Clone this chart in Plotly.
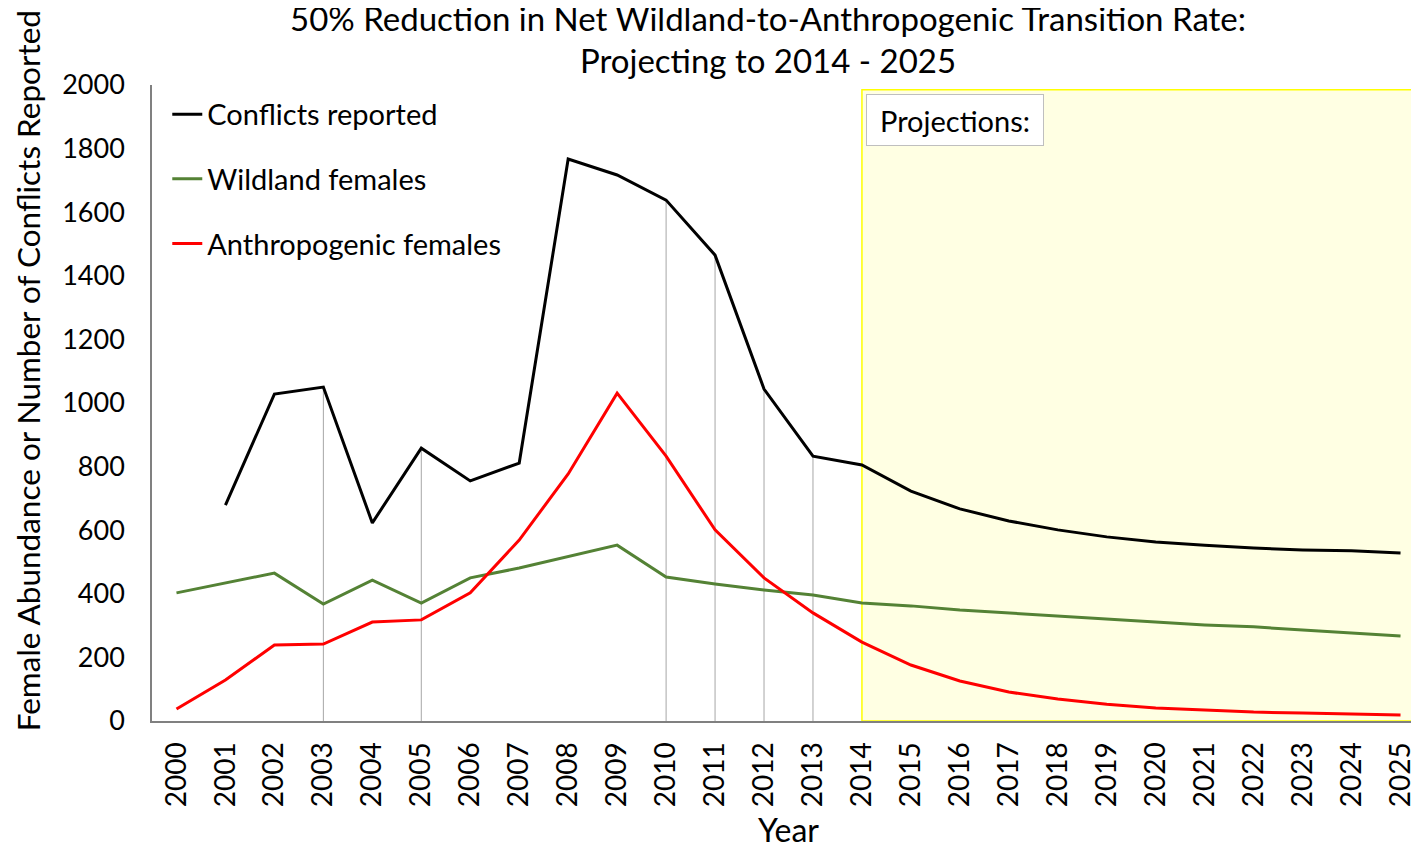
import plotly.graph_objects as go

years = list(range(2000, 2026))
conflicts = [None, 679, 1028, 1050, 623, 858, 755, 811, 1767, 1717, 1638, 1465, 1044, 833,
             805, 723, 667, 629, 601, 579, 563, 553, 544, 538, 535, 528]
wildland = [403, 434, 465, 368, 443, 371, 450, 481, 516, 553, 453, 431, 412, 396,
            371, 362, 349, 340, 330, 321, 311, 302, 296, 286, 277, 267]
anthropogenic = [38, 129, 239, 242, 311, 318, 403, 569, 777, 1031, 833, 601, 450, 340,
                 248, 176, 126, 91, 69, 53, 41, 35, 28, 25, 22, 19]
drop_years = [2003, 2005, 2010, 2011, 2012, 2013]
projection_start = 2014

FONT = "Lato"

# thin grey drop lines from the axis up to the conflicts line
drop_x, drop_y = [], []
for yr in drop_years:
    drop_x += [yr, yr, None]
    drop_y += [0, conflicts[years.index(yr)], None]

fig = go.Figure()
fig.add_trace(go.Scatter(x=drop_x, y=drop_y, mode='lines', showlegend=False,
                         line=dict(color='#a6a6a6', width=1), hoverinfo='skip'))
fig.add_trace(go.Scatter(x=years, y=conflicts, mode='lines', name='Conflicts reported',
                         legendgroup='a', line=dict(color='black', width=3)))
fig.add_trace(go.Scatter(x=years, y=wildland, mode='lines', name='Wildland females',
                         legendgroup='b', line=dict(color='#548235', width=3)))
fig.add_trace(go.Scatter(x=years, y=anthropogenic, mode='lines', name='Anthropogenic females',
                         legendgroup='c', line=dict(color='#ff0000', width=3)))

fig.add_shape(type='rect', xref='x', yref='y', x0=projection_start, x1=2025.5, y0=0, y1=1985,
              fillcolor='#ffffe3', line=dict(color='#ffff00', width=1.5), layer='below')

fig.add_annotation(x=projection_start, y=1985, xref='x', yref='y', xanchor='left', yanchor='top',
                   xshift=4, yshift=-4, text='Projections:', showarrow=False,
                   font=dict(family=FONT, size=29, color='black'), width=160, height=34,
                   bgcolor='white', bordercolor='#bfbfbf', borderwidth=1, borderpad=8)

# y axis title placed by hand (it nearly runs off the top of the chart in the original)
fig.add_annotation(x=0, y=0.55, xref='paper', yref='paper', xanchor='center', yanchor='middle',
                   xshift=-124, textangle=-90, showarrow=False,
                   text='Female Abundance or Number of Conflicts Reported',
                   font=dict(family=FONT, size=31.5, color='black'))

fig.update_layout(
    width=1419, height=849,
    margin=dict(l=144, r=2, t=77, b=136),
    plot_bgcolor='white', paper_bgcolor='white',
    font=dict(family=FONT, color='black'),
    title=dict(text='50% Reduction in Net Wildland-to-Anthropogenic Transition Rate:<br>Projecting to 2014 - 2025',
               x=0.5356, xanchor='center', y=0.9735, yanchor='middle', yref='container',
               font=dict(family=FONT, size=33, color='black')),
    legend=dict(x=0.012, y=0.994, xanchor='left', yanchor='top', bgcolor='rgba(0,0,0,0)',
                font=dict(family=FONT, size=29, color='black'), itemwidth=30,
                tracegroupgap=24, traceorder='grouped'),
    xaxis=dict(title=dict(text='Year', font=dict(family=FONT, size=32), standoff=13),
               range=[1999.5, 2025.5], tickvals=years, ticktext=[str(y) for y in years],
               tickangle=-90, tickfont=dict(family=FONT, size=28), ticklabelstandoff=8,
               showgrid=False, showline=True, linecolor='#808080', linewidth=2,
               ticks='', zeroline=False),
    yaxis=dict(range=[0, 2000], dtick=200, tickfont=dict(family=FONT, size=27),
               ticklabelstandoff=20, showgrid=False, showline=True, linecolor='#808080',
               linewidth=1.5, ticks='', zeroline=False),
)

fig.write_html("out.html")
